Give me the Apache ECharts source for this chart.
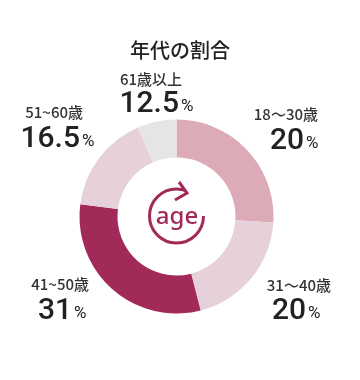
<!DOCTYPE html>
<html><head><meta charset="utf-8">
<script src="https://cdn.jsdelivr.net/npm/echarts@6/dist/echarts.min.js"></script>
<style>html,body{margin:0;padding:0;background:#fff}#c{width:360px;height:380px}</style>
</head><body><div id="c"></div>
<script>
const titleText = '年代の割合';
const categories = ['18〜30歳','31〜40歳','41~50歳','51~60歳','61歳以上'];
const labelValues = ['20','20','31','16.5','12.5'];
// slice sizes as drawn in the picture (they differ from the printed labels)
const sliceValues = [26,20,31,16.5,6.5];
const colors = ['#dcabb7','#e6d0da','#a22a59','#e6d0da','#e5e5e5'];
const catPos = [[318,114],[331,285],[89,284],[83,112],[182,79]];
const numPos = [[304,141],[306,311],[72,311],[80,139],[179,104]];
const font = '"Noto Sans CJK JP","Noto Sans",sans-serif';
const digitFont = 'Roboto,"Noto Sans",sans-serif';
const ink = '#222222';
const g = [];
categories.forEach((c,i)=>{
  g.push({type:'text',x:catPos[i][0],y:catPos[i][1],style:{text:c,fill:'#333',font:'500 15px '+font,align:'right',verticalAlign:'middle'}});
  g.push({type:'text',x:numPos[i][0],y:numPos[i][1],style:{text:labelValues[i],fill:ink,font:'500 30px '+digitFont,align:'right',verticalAlign:'middle'}});
  g.push({type:'text',x:numPos[i][0]+2,y:numPos[i][1]+3,style:{text:'%',fill:ink,font:'400 17px '+digitFont,align:'left',verticalAlign:'middle'}});
});
const accent = '#a22a59';
g.push({type:'arc',shape:{cx:176.5,cy:216,r:27,startAngle:0,endAngle:-1.22,clockwise:true},style:{stroke:accent,lineWidth:3,fill:null}});
g.push({type:'polyline',shape:{points:[[179,182],[187,193],[175,200]]},style:{stroke:accent,lineWidth:3,fill:null}});
g.push({type:'text',x:177,y:217,style:{text:'age',fill:accent,font:'500 24px "Noto Sans",sans-serif',align:'center',verticalAlign:'middle'}});
const chart = echarts.init(document.getElementById('c'),null,{renderer:'canvas'});
chart.setOption({
  animation:false,
  title:{text:titleText,left:175,top:35,textAlign:'center',textStyle:{color:ink,fontFamily:font,fontSize:20,fontWeight:500}},
  series:[{type:'pie',center:[176.5,216.5],radius:[59,97],startAngle:90,clockwise:true,silent:true,
    label:{show:false},labelLine:{show:false},
    data:categories.map((c,i)=>({name:c,value:sliceValues[i],itemStyle:{color:colors[i]}}))}],
  graphic:g
});
</script></body></html>
